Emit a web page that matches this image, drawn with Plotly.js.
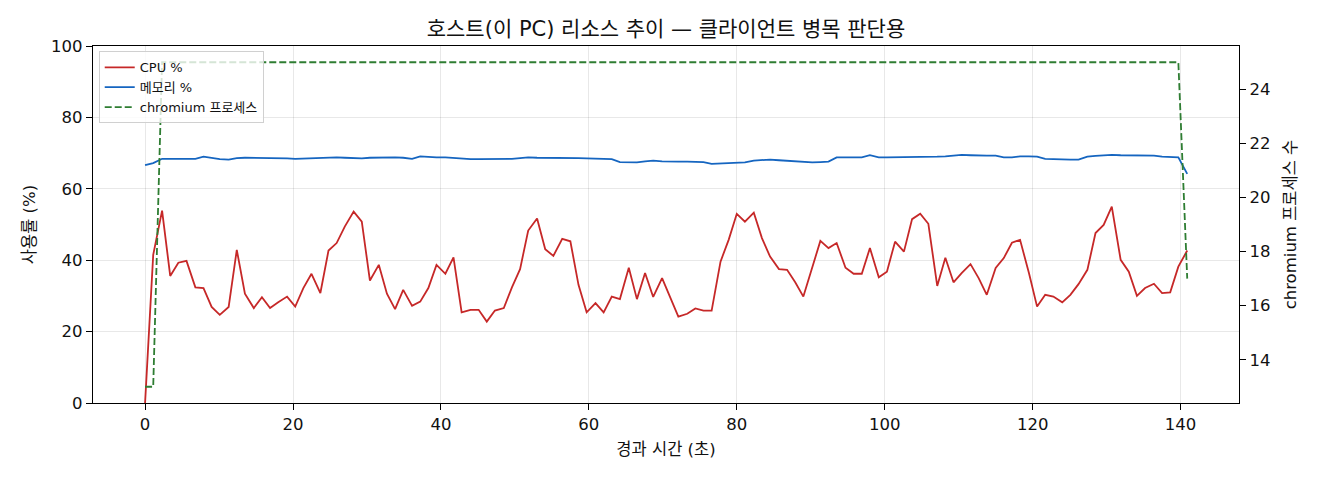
<!DOCTYPE html>
<html lang="ko">
<head>
<meta charset="utf-8">
<title>호스트 리소스 추이</title>
<script src="https://cdn.plot.ly/plotly-3.0.1.min.js"></script>
<style>
  html, body { margin: 0; padding: 0; background: #ffffff; }
  #plot { width: 1320px; height: 480px; }
</style>
</head>
<body>
<div id="plot"></div>
<script>
  // 경과 시간 (초) - 샘플 간격은 약 1.13초
  var elapsed = [
    0.0, 1.1, 2.3, 3.4, 4.5, 5.6, 6.8, 7.9, 9.0, 10.1,
    11.3, 12.4, 13.5, 14.7, 15.8, 16.9, 18.0, 19.2, 20.3, 21.4,
    22.5, 23.7, 24.8, 25.9, 27.0, 28.2, 29.3, 30.4, 31.6, 32.7,
    33.8, 34.9, 36.1, 37.2, 38.3, 39.4, 40.6, 41.7, 42.8, 44.0,
    45.1, 46.2, 47.3, 48.5, 49.6, 50.7, 51.8, 53.0, 54.1, 55.2,
    56.4, 57.5, 58.6, 59.7, 60.9, 62.0, 63.1, 64.2, 65.4, 66.5,
    67.6, 68.7, 69.9, 71.0, 72.1, 73.3, 74.4, 75.5, 76.6, 77.8,
    78.9, 80.0, 81.1, 82.3, 83.4, 84.5, 85.7, 86.8, 87.9, 89.0,
    90.2, 91.3, 92.4, 93.5, 94.7, 95.8, 96.9, 98.0, 99.2, 100.3,
    101.4, 102.6, 103.7, 104.8, 105.9, 107.1, 108.2, 109.3, 110.4, 111.6,
    112.7, 113.8, 115.0, 116.1, 117.2, 118.3, 119.5, 120.6, 121.7, 122.8,
    124.0, 125.1, 126.2, 127.4, 128.5, 129.6, 130.7, 131.9, 133.0, 134.1,
    135.2, 136.4, 137.5, 138.6, 139.7, 140.9
  ];

  var cpuPercent = [
    0.0, 41.5, 53.9, 35.6, 39.3, 39.8, 32.4, 32.2, 26.9, 24.7,
    26.9, 42.9, 30.6, 26.6, 29.6, 26.6, 28.2, 29.8, 27.0, 32.2,
    36.2, 30.8, 42.7, 44.8, 49.4, 53.6, 50.8, 34.3, 38.7, 30.6,
    26.3, 31.7, 27.2, 28.4, 32.2, 38.7, 36.2, 40.8, 25.4, 26.1,
    26.1, 22.8, 25.9, 26.6, 32.4, 37.5, 48.3, 51.7, 43.1, 41.2,
    46.0, 45.3, 33.1, 25.4, 28.0, 25.4, 29.8, 29.1, 37.9, 29.1,
    36.4, 29.7, 35.0, 29.4, 24.2, 25.0, 26.5, 25.9, 25.9, 39.6,
    45.7, 53.0, 50.8, 53.3, 46.2, 41.0, 37.5, 37.3, 33.8, 29.8,
    37.8, 45.4, 43.4, 44.8, 37.9, 36.2, 36.2, 43.4, 35.2, 36.8,
    45.2, 42.4, 51.5, 53.0, 50.2, 32.8, 40.7, 33.8, 36.4, 38.9,
    35.0, 30.3, 37.8, 40.6, 44.9, 45.7, 36.4, 27.0, 30.3, 29.8,
    28.2, 30.3, 33.3, 37.3, 47.6, 49.9, 55.0, 40.1, 36.8, 30.0,
    32.2, 33.4, 30.8, 31.0, 38.2, 42.7
  ];

  var memoryPercent = [
    66.6, 67.2, 68.4, 68.4, 68.4, 68.4, 68.4, 69.0, 68.6, 68.3,
    68.2, 68.6, 68.7, 68.7, 68.7, 68.7, 68.6, 68.5, 68.4, 68.5,
    68.7, 68.8, 68.8, 68.8, 68.7, 68.6, 68.5, 68.7, 68.8, 68.8,
    68.8, 68.7, 68.4, 69.1, 68.9, 68.8, 68.8, 68.6, 68.4, 68.3,
    68.3, 68.3, 68.3, 68.3, 68.4, 68.6, 68.8, 68.7, 68.7, 68.8,
    68.7, 68.8, 68.6, 68.5, 68.5, 68.5, 68.3, 67.5, 67.4, 67.4,
    67.7, 67.9, 67.7, 67.6, 67.6, 67.6, 67.6, 67.5, 67.0, 67.1,
    67.1, 67.2, 67.4, 67.9, 68.0, 68.2, 68.0, 67.9, 67.8, 67.5,
    67.4, 67.5, 67.6, 68.8, 68.8, 68.8, 68.8, 69.4, 68.8, 68.8,
    68.8, 68.9, 68.9, 68.9, 69.0, 69.0, 69.1, 69.3, 69.5, 69.4,
    69.3, 69.3, 69.3, 68.8, 68.8, 69.1, 69.1, 69.0, 68.4, 68.3,
    68.3, 68.2, 68.2, 69.0, 69.2, 69.4, 69.5, 69.4, 69.4, 69.4,
    69.4, 69.3, 69.0, 68.8, 68.8, 64.2
  ];

  var chromiumProcs = [
    13, 13, 25, 25, 25, 25, 25, 25, 25, 25,
    25, 25, 25, 25, 25, 25, 25, 25, 25, 25,
    25, 25, 25, 25, 25, 25, 25, 25, 25, 25,
    25, 25, 25, 25, 25, 25, 25, 25, 25, 25,
    25, 25, 25, 25, 25, 25, 25, 25, 25, 25,
    25, 25, 25, 25, 25, 25, 25, 25, 25, 25,
    25, 25, 25, 25, 25, 25, 25, 25, 25, 25,
    25, 25, 25, 25, 25, 25, 25, 25, 25, 25,
    25, 25, 25, 25, 25, 25, 25, 25, 25, 25,
    25, 25, 25, 25, 25, 25, 25, 25, 25, 25,
    25, 25, 25, 25, 25, 25, 25, 25, 25, 25,
    25, 25, 25, 25, 25, 25, 25, 25, 25, 25,
    25, 25, 25, 25, 25, 17
  ];

  var leftTicks = [0, 20, 40, 60, 80, 100];
  var rightTicks = [14, 16, 18, 20, 22, 24];
  var timeTicks = [0, 20, 40, 60, 80, 100, 120, 140];

  (function () {
    "use strict";

    // 숫자/라틴은 DejaVu, 한글은 Noto CJK KR로 fallback
    var FONT = "'DejaVu Sans', 'Noto Sans CJK KR', sans-serif";
    var TEXT = "#111111";
    var AXIS = "#000000";
    var GRID = "rgba(0,0,0,0.09)";

    /*
      matplotlib 스타일에 맞춘 축 설정.
      좌축/하단축만 grid, 우축은 grid 없음.
    */
    function baseAxis(extra) {
      var axis = {
        showline: true,
        linecolor: AXIS,
        linewidth: 1.2,
        ticks: "outside",
        ticklen: 6,
        tickwidth: 1,
        tickcolor: AXIS,
        zeroline: false,
        tickfont: { family: FONT, size: 16.5, color: TEXT }
      };

      Object.keys(extra || {}).forEach(function (key) {
        axis[key] = extra[key];
      });

      return axis;
    }

    var traces = [
      {
        x: elapsed,
        y: cpuPercent,
        type: "scatter",
        mode: "lines",
        name: "CPU %",
        line: { color: "#c62828", width: 1.8 }
      },
      {
        x: elapsed,
        y: memoryPercent,
        type: "scatter",
        mode: "lines",
        name: "메모리 %",
        line: { color: "#1565c0", width: 1.8 }
      },
      {
        x: elapsed,
        y: chromiumProcs,
        type: "scatter",
        mode: "lines",
        name: "chromium 프로세스",
        yaxis: "y2",
        line: { color: "#2e7d32", width: 1.8, dash: "7px,3px" }
      }
    ];

    var layout = {
      width: 1320,
      height: 480,
      margin: { l: 93, r: 81, t: 46, b: 77 },
      paper_bgcolor: "#ffffff",
      plot_bgcolor: "#ffffff",
      font: { family: FONT, color: TEXT },

      title: {
        text: "호스트(이 PC) 리소스 추이 — 클라이언트 병목 판단용",
        font: { family: FONT, size: 21, color: TEXT },
        x: 0.5,
        xref: "paper",
        xanchor: "center",
        y: 0.94,
        yref: "container",
        yanchor: "middle"
      },

      xaxis: baseAxis({
        title: {
          text: "경과 시간 (초)",
          font: { family: FONT, size: 16.5, color: TEXT },
          standoff: 10
        },
        range: [-7.04, 147.9],
        tickmode: "array",
        tickvals: timeTicks,
        showgrid: true,
        gridcolor: GRID,
        mirror: true
      }),

      yaxis: baseAxis({
        title: {
          text: "사용률 (%)",
          font: { family: FONT, size: 16.5, color: TEXT },
          standoff: 11
        },
        range: [0, 100],
        tickmode: "array",
        tickvals: leftTicks,
        showgrid: true,
        gridcolor: GRID
      }),

      yaxis2: baseAxis({
        title: {
          text: "chromium 프로세스 수",
          font: { family: FONT, size: 16.5, color: TEXT },
          standoff: 15
        },
        overlaying: "y",
        side: "right",
        range: [12.4, 25.6],
        tickmode: "array",
        tickvals: rightTicks,
        showgrid: false
      }),

      showlegend: true,
      legend: {
        x: 0.005,
        y: 0.985,
        xanchor: "left",
        yanchor: "top",
        bgcolor: "rgba(255,255,255,0.8)",
        bordercolor: "#d0d0d0",
        borderwidth: 1,
        tracegroupgap: 0,
        font: { family: FONT, size: 13, color: TEXT }
      }
    };

    Plotly.newPlot("plot", traces, layout, { displayModeBar: false, responsive: false });
  })();
</script>
</body>
</html>
